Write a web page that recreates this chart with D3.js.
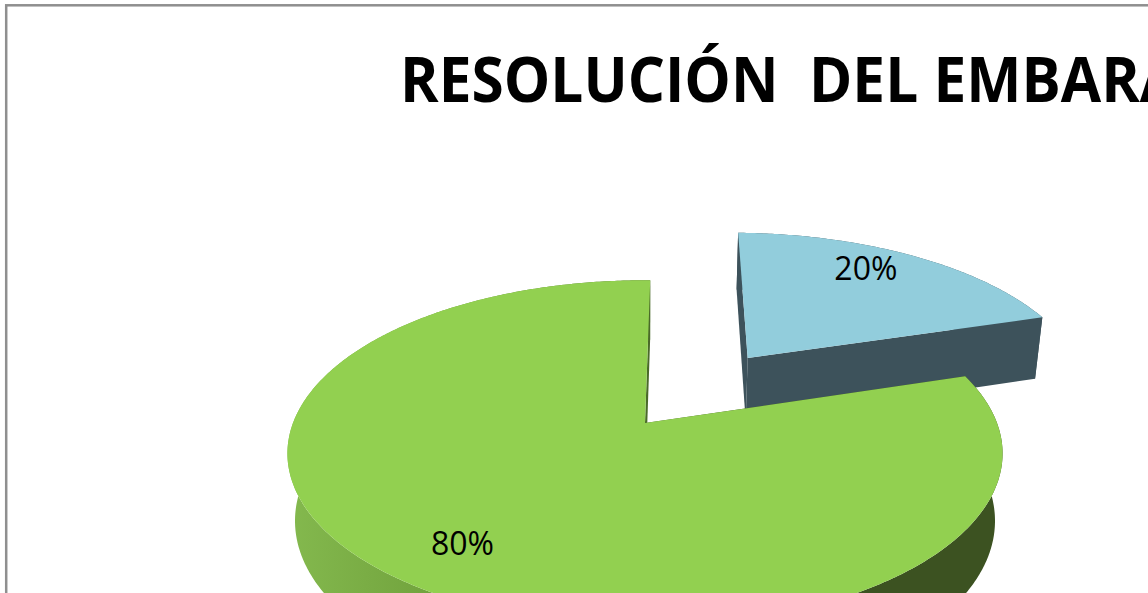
<!DOCTYPE html>
<html>
<head>
<meta charset="utf-8">
<script src="https://cdn.jsdelivr.net/npm/d3@7/dist/d3.min.js"></script>
<style>
  body { margin: 0; background: #fff; overflow: hidden; }
  text { font-family: "Open Sans", "DejaVu Sans", sans-serif; }
</style>
</head>
<body>
<svg id="chart" width="1148" height="593"></svg>
<script>
// data
const title = "RESOLUCIÓN  DEL EMBARAZO";
const categories = ["azul", "verde"];
const values = [20, 80];
const labels = ["20%", "80%"];
const topColors = ["#92cddc", "#92d050"];
const explodes = [0.52, 0]; // radial pull-out, in pie radii

const width = 1148, height = 593;
const svg = d3.select("#chart");

// Camera for the 3D pie (pie radius = 1)
const cx = 645, cy = 423;     // where the pie centre lands on screen
const dist = 5;               // camera distance
const tilt = 0.497;           // elevation angle (rad)
const focal = 1760;
const depth = 0.22;           // slice thickness
const sinT = Math.sin(tilt), cosT = Math.cos(tilt);

function project(X, Y, Z) {
  const t = dist - Y * sinT - Z * cosT;
  const v = Y * cosT - Z * sinT;
  return [cx + focal * X / t, cy - focal * v / t];
}
// angle clockwise from the back (12 o'clock), like d3.pie
function rimPoint(a, r, y, off) {
  return project(off[0] + r * Math.sin(a), y, off[1] - r * Math.cos(a));
}
function arcPoints(a0, a1, y, off) {
  const n = Math.max(2, Math.ceil(Math.abs(a1 - a0) / 0.01));
  return d3.range(n + 1).map(i => rimPoint(a0 + (a1 - a0) * i / n, 1, y, off));
}

const line = d3.line().curve(d3.curveLinear);
const startOffset = 1 * Math.PI / 180;
const pie = d3.pie().sort(null).startAngle(startOffset).endAngle(startOffset + 2 * Math.PI);
const arcs = pie(values);

// side shading
const defs = svg.append("defs");
const greenSide = defs.append("linearGradient")
  .attr("id", "greenSide")
  .attr("gradientUnits", "userSpaceOnUse")
  .attr("x1", 287).attr("x2", 1002).attr("y1", 0).attr("y2", 0);
greenSide.append("stop").attr("offset", "0%").attr("stop-color", "#84b94e");
greenSide.append("stop").attr("offset", "22%").attr("stop-color", "#70a13c");
greenSide.append("stop").attr("offset", "48%").attr("stop-color", "#4d6f2b");
greenSide.append("stop").attr("offset", "62%").attr("stop-color", "#3c5221");
greenSide.append("stop").attr("offset", "100%").attr("stop-color", "#3c5221");
const sideFills = ["#3d525b", "url(#greenSide)"];

// chart border (only top/left visible)
svg.append("rect")
  .attr("x", 6.2).attr("y", 5.3)
  .attr("width", 1400).attr("height", 900)
  .attr("fill", "none")
  .attr("stroke", "#8f8f8f")
  .attr("stroke-width", 2.5);

// title, squeezed to a Calibri-like width
const titleText = svg.append("text")
  .attr("font-weight", "bold")
  .attr("font-size", 62)
  .attr("fill", "#000")
  .style("white-space", "pre")
  .text(title);
const probe = svg.append("text")
  .attr("font-weight", "bold")
  .attr("font-size", 62)
  .style("white-space", "pre")
  .text("RESOLUCIÓN  DEL EMBAR");
const probeW = probe.node().getComputedTextLength();
probe.remove();
const sx = (1140 - 400) / probeW;
titleText.attr("transform", `translate(400,101.7) scale(${sx},1)`);

// pie slices (blue is behind, drawn first)
const pieG = svg.append("g").attr("class", "pie3d");
arcs.forEach((d, i) => {
  const mid = (d.startAngle + d.endAngle) / 2;
  const e = explodes[i];
  const off = [e * Math.sin(mid), -e * Math.cos(mid)];
  const g = pieG.append("g").attr("class", "slice " + categories[i]);

  // outer wall
  const topRim = arcPoints(d.startAngle, d.endAngle, 0, off);
  const botRim = arcPoints(d.startAngle, d.endAngle, -depth, off).reverse();
  g.append("path")
    .attr("d", line(topRim.concat(botRim)) + "Z")
    .attr("fill", sideFills[i]);

  // radial walls
  const cTop = project(off[0], 0, off[1]);
  const cBot = project(off[0], -depth, off[1]);
  [d.startAngle, d.endAngle].forEach(a => {
    g.append("path")
      .attr("d", line([cTop, rimPoint(a, 1, 0, off), rimPoint(a, 1, -depth, off), cBot]) + "Z")
      .attr("fill", sideFills[i]);
  });

  // top face
  g.append("path")
    .attr("d", line([cTop].concat(topRim)) + "Z")
    .attr("fill", topColors[i]);
});

// data labels (Excel puts them a little off the mid-angle line)
const labelShift = [[-12, -8], [3, 2]];
arcs.forEach((d, i) => {
  const mid = (d.startAngle + d.endAngle) / 2;
  const e = explodes[i];
  const off = [e * Math.sin(mid), -e * Math.cos(mid)];
  const p = rimPoint(mid, 0.78, 0, off);
  svg.append("text")
    .attr("x", p[0] + labelShift[i][0]).attr("y", p[1] + labelShift[i][1])
    .attr("text-anchor", "middle")
    .attr("dominant-baseline", "central")
    .attr("font-size", 32)
    .attr("fill", "#000")
    .text(labels[i]);
});
</script>
</body>
</html>
